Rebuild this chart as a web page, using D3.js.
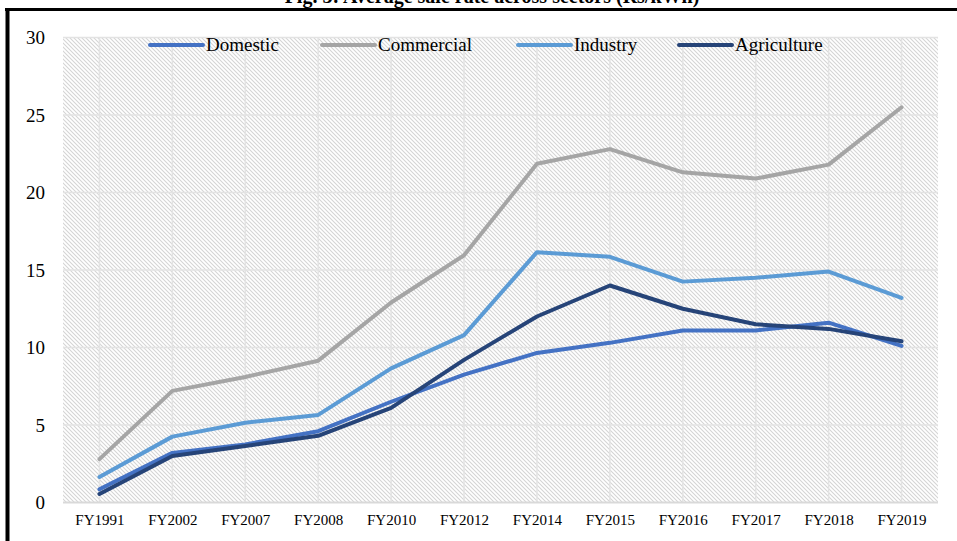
<!DOCTYPE html>
<html><head><meta charset="utf-8">
<script src="https://cdn.jsdelivr.net/npm/d3@7"></script>
<style>html,body{margin:0;padding:0;background:#fff;overflow:hidden}svg{display:block}</style>
</head><body><svg id="c" width="957" height="541"></svg>
<script>
const categories = ["FY1991","FY2002","FY2007","FY2008","FY2010","FY2012","FY2014","FY2015","FY2016","FY2017","FY2018","FY2019"];
const domestic    = [0.85, 3.2, 3.75, 4.6, 6.5, 8.25, 9.65, 10.3, 11.1, 11.1, 11.6, 10.1];
const commercial  = [2.8, 7.2, 8.1, 9.15, 12.9, 15.95, 21.85, 22.8, 21.3, 20.9, 21.8, 25.5];
const industry    = [1.65, 4.25, 5.15, 5.65, 8.65, 10.8, 16.15, 15.85, 14.25, 14.5, 14.9, 13.2];
const agriculture = [0.55, 3.0, 3.65, 4.3, 6.1, 9.2, 12.0, 14.0, 12.5, 11.5, 11.2, 10.4];
const seriesNames = ["Domestic","Commercial","Industry","Agriculture"];
const yTicks = [0,5,10,15,20,25,30];
const title = "Fig. 3: Average sale rate across sectors (Rs/kWh)";

const colors = ["#4472C4","#A5A5A5","#5B9BD5","#264478"];
const seriesData = [domestic, commercial, industry, agriculture];

const svg = d3.select("#c");
const font = "'Liberation Serif','Times New Roman',serif";
const L = 63, R = 938, T = 37.5, B = 502.5;

const x = d3.scalePoint().domain(categories).range([L, R]).padding(0.5);
const y = d3.scaleLinear().domain([0, 30]).range([B, T]);

// hatch pattern
const defs = svg.append("defs");
const pat = defs.append("pattern").attr("id","hatch").attr("patternUnits","userSpaceOnUse")
  .attr("width",4).attr("height",4);
pat.append("path").attr("d","M-1,-1 L5,5 M-1,3 L1,5 M3,-1 L5,1")
  .attr("stroke","#d4d4d4").attr("stroke-width",1.1);
svg.append("rect").attr("x",L).attr("y",T).attr("width",R-L).attr("height",B-T).attr("fill","url(#hatch)");

// title (cut off at top)
svg.append("text").attr("x",492).attr("y",3).attr("text-anchor","middle")
  .attr("font-family",font).attr("font-weight","bold").attr("font-size",20).text(title);

// frame
svg.append("line").attr("x1",5).attr("x2",957).attr("y1",9.5).attr("y2",9.5).attr("stroke","#000").attr("stroke-width",3);
svg.append("line").attr("x1",7.5).attr("x2",7.5).attr("y1",8).attr("y2",541).attr("stroke","#000").attr("stroke-width",4);

// gridlines
svg.append("g").selectAll("line").data(yTicks.filter(d=>d>0)).join("line")
  .attr("x1",L).attr("x2",R).attr("y1",d=>y(d)).attr("y2",d=>y(d))
  .attr("stroke","#e3e3e3").attr("stroke-width",1.5);
svg.append("g").selectAll("line").data(categories).join("line")
  .attr("x1",d=>x(d)).attr("x2",d=>x(d)).attr("y1",T).attr("y2",B)
  .attr("stroke","#e3e3e3").attr("stroke-width",1.5);

// x axis
const xa = svg.append("g").attr("transform",`translate(0,${B})`)
  .call(d3.axisBottom(x).tickSize(0).tickPadding(12));
xa.select(".domain").attr("stroke","#d9d9d9").attr("stroke-width",1.8).attr("d",`M${L},0H${R}`);
xa.selectAll("text").attr("font-family",font).attr("font-size",15).attr("fill","#000");

// y axis
const ya = svg.append("g").attr("transform",`translate(${L},0)`)
  .call(d3.axisLeft(y).tickValues(yTicks).tickSize(0).tickPadding(18));
ya.select(".domain").remove();
ya.selectAll("text").attr("font-family",font).attr("font-size",19).attr("fill","#000");

// lines
const line = d3.line().x((d,i)=>x(categories[i])).y(d=>y(d));
svg.append("g").selectAll("path").data(seriesData).join("path")
  .attr("d",d=>line(d)).attr("fill","none")
  .attr("stroke",(d,i)=>colors[i]).attr("stroke-width",4)
  .attr("stroke-linejoin","round").attr("stroke-linecap","round");

// legend
const legX = [150, 322, 518, 679];
const lg = svg.append("g").selectAll("g").data(seriesNames).join("g")
  .attr("transform",(d,i)=>`translate(${legX[i]},45)`);
lg.append("line").attr("x1",0).attr("x2",53).attr("y1",0).attr("y2",0)
  .attr("stroke",(d,i)=>colors[i]).attr("stroke-width",4).attr("stroke-linecap","round");
lg.append("text").attr("x",56).attr("y",6).attr("font-family",font).attr("font-size",19)
  .attr("fill","#000").text(d=>d);
</script></body></html>
